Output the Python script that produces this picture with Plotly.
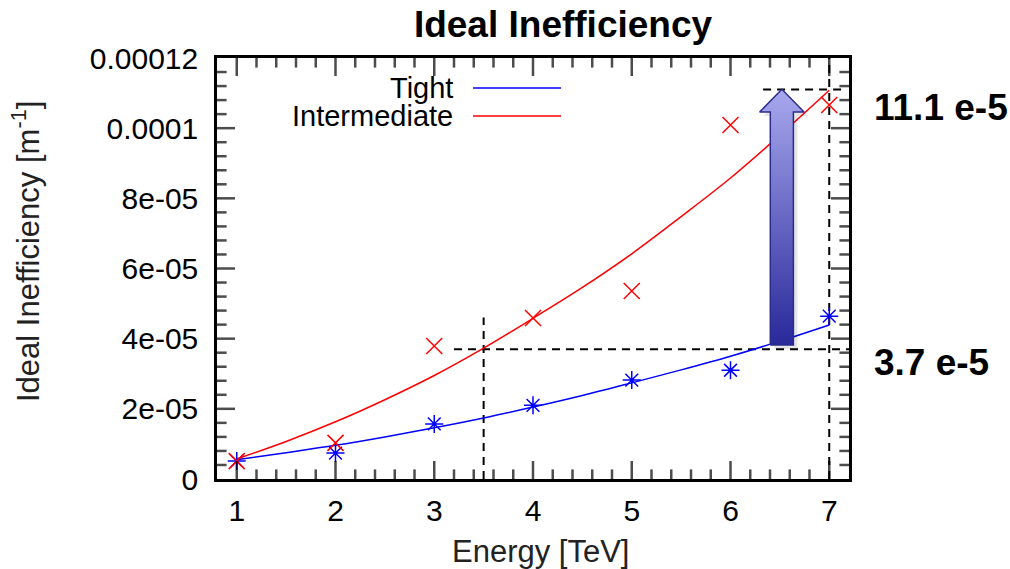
import plotly.graph_objects as go

# ---- data ----
energy = [1, 2, 3, 4, 5, 6, 7]
tight = [0.51e-5, 0.74e-5, 1.57e-5, 2.10e-5, 2.82e-5, 3.10e-5, 4.64e-5]
intermediate = [0.51e-5, 1.03e-5, 3.79e-5, 4.59e-5, 5.36e-5, 10.09e-5, 10.66e-5]

fit_x = [1, 1.5, 2, 2.5, 3, 3.5, 4, 4.5, 5, 5.5, 6, 6.5, 7]
tight_fit = [v * 1e-5 for v in [0.55, 0.75, 0.96, 1.20, 1.46, 1.74, 2.05, 2.38, 2.74, 3.11, 3.50, 3.93, 4.39]]
inter_fit = [v * 1e-5 for v in [0.57, 1.07, 1.63, 2.26, 2.95, 3.73, 4.58, 5.46, 6.42, 7.48, 8.58, 9.80, 11.08]]

x_tickvals = [1, 2, 3, 4, 5, 6, 7]
y_tickvals = [0, 2e-5, 4e-5, 6e-5, 8e-5, 1e-4, 1.2e-4]
y_ticktext = ["0", "2e-05", "4e-05", "6e-05", "8e-05", "0.0001", "0.00012"]
x_minor_step = 0.2
y_minor_step = 0.4e-5

# annotation levels
low_level = 3.7e-5
high_level = 11.1e-5
low_x = 3.5
high_x = 7.0

FONT = "Liberation Sans"
X_RANGE = [0.8, 7.2]
Y_RANGE = [0, 12e-5]

# plot-area pixel geometry
L, R, T, B = 217, 849, 58, 479
W, H = 1010, 569
DX = (X_RANGE[1] - X_RANGE[0]) / (R - L)   # data units per pixel
DY = (Y_RANGE[1] - Y_RANGE[0]) / (B - T)


def px(xp):
    return (xp - L) / (R - L)


def py(yp):
    return (B - yp) / (B - T)


fig = go.Figure()

# guide dashed lines
dash_style = dict(color="black", width=2, dash="8px,6px")
fig.add_trace(go.Scatter(x=[3.2, 7.2], y=[low_level, low_level], mode="lines",
                         line=dash_style, showlegend=False, hoverinfo="skip"))
fig.add_trace(go.Scatter(x=[low_x, low_x], y=[0, 4.6e-5], mode="lines",
                         line=dash_style, showlegend=False, hoverinfo="skip"))
fig.add_trace(go.Scatter(x=[6.33, 7.14], y=[high_level, high_level], mode="lines",
                         line=dash_style, showlegend=False, hoverinfo="skip"))
fig.add_trace(go.Scatter(x=[high_x, high_x], y=[0, 12e-5], mode="lines",
                         line=dash_style, showlegend=False, hoverinfo="skip"))

# fitted curves
fig.add_trace(go.Scatter(x=fit_x, y=tight_fit, mode="lines", line=dict(color="#0000ff", width=1.5, shape="spline"),
                         name="Tight", showlegend=False))
fig.add_trace(go.Scatter(x=fit_x, y=inter_fit, mode="lines", line=dict(color="#ff0000", width=1.5, shape="spline"),
                         name="Intermediate", showlegend=False))

# markers
fig.add_trace(go.Scatter(x=energy, y=tight, mode="markers",
                         marker=dict(symbol="asterisk-open", size=15, color="#0000ff",
                                     line=dict(color="#0000ff", width=1.5)),
                         showlegend=False))
fig.add_trace(go.Scatter(x=energy, y=intermediate, mode="markers",
                         marker=dict(symbol="x-thin-open", size=16, color="#ff0000",
                                     line=dict(color="#ff0000", width=1.5)),
                         showlegend=False))

# big gradient arrow
ax = 6.52
shaft = 0.117
head = 0.225
y0 = 3.82e-5
yb = 10.46e-5
yt = 11.11e-5
arrow_x = [ax - shaft, ax - shaft, ax - head, ax, ax + head, ax + shaft, ax + shaft, ax - shaft]
arrow_y = [y0, yb, yb, yt, yb, yb, y0, y0]
fig.add_trace(go.Scatter(x=[v + 4 * DX for v in arrow_x], y=[v - 4 * DY for v in arrow_y], mode="lines",
                         fill="toself", fillcolor="rgba(0,0,0,0.10)", line=dict(width=0),
                         showlegend=False, hoverinfo="skip"))
fig.add_trace(go.Scatter(x=arrow_x, y=arrow_y, mode="lines", fill="toself",
                         fillgradient=dict(type="vertical",
                                           colorscale=[[0, "#28289a"], [1, "#a8a8ee"]]),
                         line=dict(color="#2c2c8c", width=1.5),
                         showlegend=False, hoverinfo="skip"))

# ---- tick marks drawn as line markers (inside, on all four sides) ----
MAJ, MIN = 15, 8
tk_x, tk_y, tk_sym, tk_size = [], [], [], []
n_x = int(round((X_RANGE[1] - X_RANGE[0]) / x_minor_step))
for i in range(1, n_x):
    v = X_RANGE[0] + i * x_minor_step
    ln = MAJ if any(abs(v - m) < 1e-6 for m in x_tickvals) else MIN
    tk_x += [v, v]
    tk_y += [Y_RANGE[0] + ln / 2 * DY, Y_RANGE[1] - ln / 2 * DY]
    tk_sym += ["line-ns-open", "line-ns-open"]
    tk_size += [ln, ln]
n_y = int(round((Y_RANGE[1] - Y_RANGE[0]) / y_minor_step))
for i in range(1, n_y):
    v = Y_RANGE[0] + i * y_minor_step
    ln = MAJ if any(abs(v - m) < 1e-10 for m in y_tickvals) else MIN
    tk_x += [X_RANGE[0] + ln / 2 * DX, X_RANGE[1] - ln / 2 * DX]
    tk_y += [v, v]
    tk_sym += ["line-ew-open", "line-ew-open"]
    tk_size += [ln, ln]
fig.add_trace(go.Scatter(x=tk_x, y=tk_y, mode="markers", cliponaxis=False,
                         marker=dict(symbol=tk_sym, size=tk_size, color="black",
                                     line=dict(color="black", width=2.5)),
                         showlegend=False, hoverinfo="skip"))

# manual legend (text left of sample line)
legend_items = [("Tight", "#0000ff", 88), ("Intermediate", "#ff0000", 116)]
for label, col, yp in legend_items:
    fig.add_annotation(x=px(455), y=py(yp), xref="paper", yref="paper", text=label,
                       showarrow=False, xanchor="right", yanchor="middle",
                       font=dict(family=FONT, size=29, color="black"))
    fig.add_shape(type="line", xref="paper", yref="paper", x0=px(473), x1=px(561),
                  y0=py(yp), y1=py(yp), line=dict(color=col, width=1.5))

# side labels
side_labels = [("<b>11.1 e-5</b>", 107), ("<b>3.7 e-5</b>", 362)]
for txt, yp in side_labels:
    fig.add_annotation(x=px(872), y=py(yp), xref="paper", yref="paper", text=txt,
                       showarrow=False, xanchor="left", yanchor="middle",
                       font=dict(family=FONT, size=37, color="black"))

# axis titles
fig.add_annotation(x=px(540), y=py(551), xref="paper", yref="paper", text="Energy [TeV]",
                   showarrow=False, xanchor="center", yanchor="middle",
                   font=dict(family=FONT, size=31, color="#222"))
fig.add_annotation(x=px(26), y=py(252), xref="paper", yref="paper", text="Ideal Inefficiency [m<sup>-1</sup>]",
                   showarrow=False, xanchor="center", yanchor="middle", textangle=-90,
                   font=dict(family=FONT, size=31, color="#222"))

fig.update_xaxes(range=X_RANGE, tickmode="array", tickvals=x_tickvals, ticklabelstandoff=3,
                 showline=True, linewidth=2.5, linecolor="black", mirror=True, ticks="",
                 showgrid=False, zeroline=False,
                 tickfont=dict(family=FONT, size=30, color="black"))
fig.update_yaxes(range=Y_RANGE, tickmode="array", tickvals=y_tickvals, ticktext=y_ticktext,
                 ticklabelstandoff=10,
                 showline=True, linewidth=2.5, linecolor="black", mirror=True, ticks="",
                 showgrid=False, zeroline=False,
                 tickfont=dict(family=FONT, size=30, color="black"))

fig.update_layout(
    width=W, height=H,
    margin=dict(l=L, r=W - R, t=T, b=H - B),
    paper_bgcolor="white", plot_bgcolor="white",
    showlegend=False,
    title=dict(text="<b>Ideal Inefficiency</b>", x=563 / W, xanchor="center",
               y=1 - 24 / H, yanchor="middle", yref="container",
               font=dict(family=FONT, size=37, color="black")),
)

fig.write_html("out.html")
